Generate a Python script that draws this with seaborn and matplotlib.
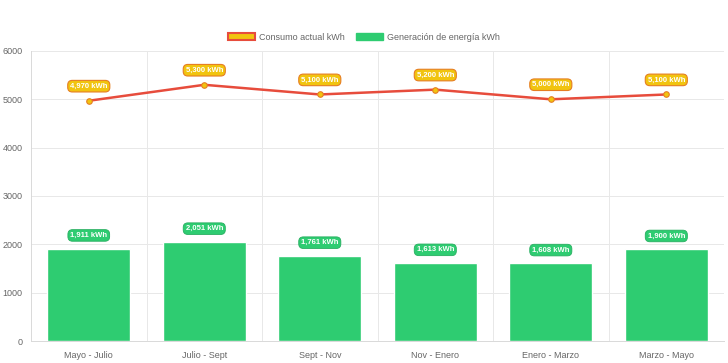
import matplotlib
matplotlib.use("Agg")
import matplotlib.pyplot as plt
import seaborn as sns
import pandas as pd
from matplotlib.patches import Patch

categories = ["Mayo - Julio", "Julio - Sept", "Sept - Nov", "Nov - Enero", "Enero - Marzo", "Marzo - Mayo"]
consumo = [4970, 5300, 5100, 5200, 5000, 5100]
generacion = [1911, 2051, 1761, 1613, 1608, 1900]
consumo_labels = ["4,970 kWh", "5,300 kWh", "5,100 kWh", "5,200 kWh", "5,000 kWh", "5,100 kWh"]
generacion_labels = ["1,911 kWh", "2,051 kWh", "1,761 kWh", "1,613 kWh", "1,608 kWh", "1,900 kWh"]

sns.set_theme(style="white")
plt.rcParams["font.family"] = ["Liberation Sans", "DejaVu Sans"]

GREEN = "#2ecc71"
RED = "#e74c3c"
YELLOW = "#f1c40f"

df = pd.DataFrame({"periodo": categories, "consumo": consumo, "generacion": generacion})

fig = plt.figure(figsize=(7.28, 3.63), dpi=100)
ax = fig.add_axes([0.0426, 0.0606, 0.952, 0.799])

sns.barplot(data=df, x="periodo", y="generacion", color=GREEN, saturation=1, width=0.72, ax=ax, zorder=2)
df["pos"] = range(len(categories))
sns.lineplot(data=df, x="pos", y="consumo", color=RED, linewidth=1.8, ax=ax, zorder=3,
             marker="o", markersize=4, markerfacecolor=YELLOW, markeredgecolor="#e67e22", markeredgewidth=0.8)

ax.set_xlim(-0.5, len(categories) - 0.5)
ax.set_ylim(0, 6000)
ax.set_yticks(range(0, 6001, 1000))
ax.set_xlabel("")
ax.set_ylabel("")
ax.tick_params(axis="both", labelsize=6.5, colors="#666666", length=4, width=0.6)
ax.tick_params(axis="x", color="#e5e5e5", pad=3)
ax.tick_params(axis="y", color="#e5e5e5", pad=2)
for lab in ax.get_xticklabels() + ax.get_yticklabels():
    lab.set_color("#666666")

ax.grid(axis="y", color="#e8e8e8", linewidth=0.7, zorder=0)
for b in [i + 0.5 for i in range(len(categories) - 1)]:
    ax.axvline(b, color="#e8e8e8", linewidth=0.7, zorder=0)
for s in ["top", "right"]:
    ax.spines[s].set_visible(False)
ax.spines["left"].set_color("#d9d9d9")
ax.spines["bottom"].set_color("#d9d9d9")
ax.spines["left"].set_linewidth(0.7)
ax.spines["bottom"].set_linewidth(0.7)

for i, (v, t) in enumerate(zip(consumo, consumo_labels)):
    ax.annotate(t, (i, v), xytext=(0, 10.5), textcoords="offset points", ha="center", va="center",
                fontsize=5.5, fontweight="bold", color="white", zorder=5,
                bbox=dict(boxstyle="round,pad=0.3,rounding_size=0.6", fc=YELLOW, ec="#e67e22", lw=0.8))
for i, (v, t) in enumerate(zip(generacion, generacion_labels)):
    ax.annotate(t, (i, v), xytext=(0, 9.5), textcoords="offset points", ha="center", va="center",
                fontsize=5.5, fontweight="bold", color="white", zorder=5,
                bbox=dict(boxstyle="round,pad=0.3,rounding_size=0.6", fc=GREEN, ec="#27ae60", lw=0.6))

handles = [Patch(facecolor=YELLOW, edgecolor=RED, linewidth=1.5, label="Consumo actual kWh"),
           Patch(facecolor=GREEN, edgecolor=GREEN, label="Generación de energía kWh")]
leg = fig.legend(handles=handles, loc="center", bbox_to_anchor=(0.5, 0.898), ncol=2, frameon=False,
                 fontsize=6.5, handlelength=3.0, handleheight=0.9, columnspacing=1.2, handletextpad=0.5)
for t in leg.get_texts():
    t.set_color("#666666")

fig.savefig("out.png", dpi=100)
